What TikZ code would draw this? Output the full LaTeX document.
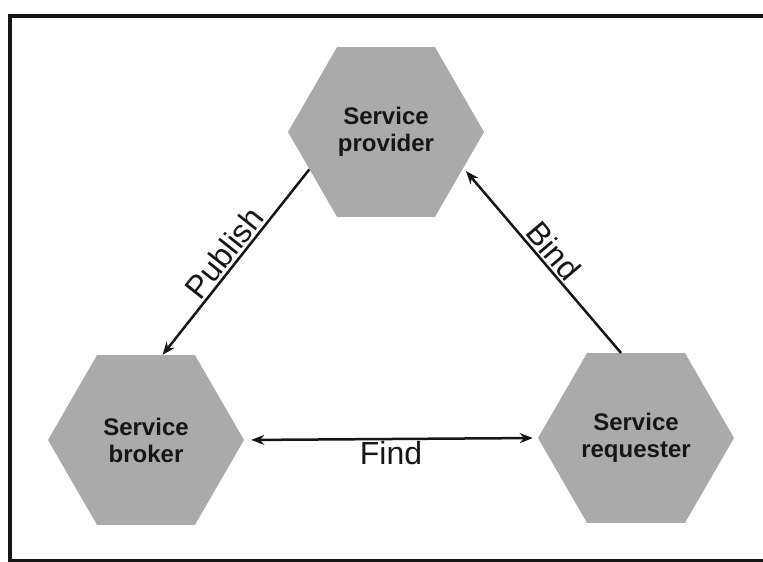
\documentclass[tikz,border=0pt]{standalone}
\usepackage{fontspec}
\setmainfont{Liberation Sans}
\usetikzlibrary{shapes.geometric,arrows.meta}
\definecolor{hexfill}{RGB}{170,170,170}
\definecolor{ink}{RGB}{22,22,22}
\begin{document}
\begin{tikzpicture}[x=1pt,y=-1pt,
  hexnode/.style={regular polygon, regular polygon sides=6, minimum size=196pt,
    inner sep=0pt, fill=hexfill, font=\bfseries\fontsize{24}{27}\selectfont,
    align=center, text=ink},
  conn/.style={line width=2.5pt, draw=ink, -{Stealth[length=13pt,width=10pt]}},
  lbl/.style={font=\fontsize{32}{36}\selectfont, text=ink, inner sep=2pt},
  framel/.style={draw=ink, line width=4pt}]
\useasboundingbox[fill=white] (0,0) rectangle (763,562);
% frame
\coordinate (ftl) at (9.5,15.5);
\coordinate (ftr) at (763,15.5);
\coordinate (fbl) at (9.5,562);
\coordinate (fbl2) at (9.5,560.5);
\coordinate (fbr) at (763,560.5);
\draw[framel] (ftr) -- (ftl) -- (fbl);
\draw[draw=ink, line width=3pt] (fbl2) -- (fbr);
% hexagons
\node[hexnode] (prov) at (386,132) {Service\\provider};
\node[hexnode] (brok) at (146,440) {Service\\broker};
\node[hexnode] (req) at (636,438) {Service\\requester};
% connectors
\draw[conn] (prov.-154) -- node[lbl, sloped, above, midway] (lpub) {Publish} (brok.79);
\draw[conn, shorten >=4pt] (req.100) -- node[lbl, sloped, above, midway] (lbind) {Bind} (prov.-25);
\draw[conn, {Stealth[length=13pt,width=10pt]}-{Stealth[length=13pt,width=10pt]},
  shorten <=7pt, shorten >=5pt] (brok.east) -- node[lbl, below, midway, inner sep=1pt] (lfind) {Find} (req.west);
\end{tikzpicture}
\end{document}
